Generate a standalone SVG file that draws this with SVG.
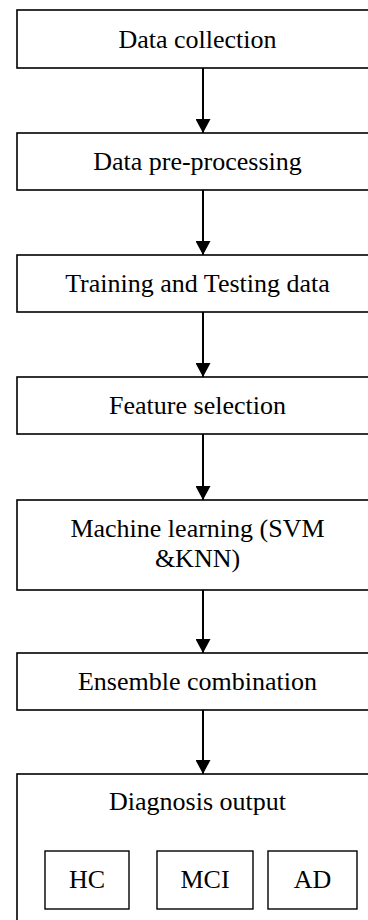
<svg xmlns="http://www.w3.org/2000/svg" width="368" height="920" viewBox="0 0 368 920">
<style>
.box{fill:#fff;stroke:#000;stroke-width:1.6}
.ibox{fill:#fff;stroke:#000;stroke-width:1.4}
.t{font-size:26px;fill:#000;text-anchor:middle}
.c{stroke:#000;stroke-width:2;fill:none}
</style>
<defs>
<marker id="ah" markerWidth="14" markerHeight="15" refX="14" refY="7.5" orient="auto" markerUnits="userSpaceOnUse" viewBox="0 0 14 15">
<path d="M0,0 L14,7.5 L0,15 Z" fill="#000"/>
</marker>
</defs>
<g id="connectors">
<line class="c" x1="203" y1="68" x2="203" y2="133" marker-end="url(#ah)"/>
<line class="c" x1="203" y1="190" x2="203" y2="255" marker-end="url(#ah)"/>
<line class="c" x1="203" y1="312" x2="203" y2="377" marker-end="url(#ah)"/>
<line class="c" x1="203" y1="434" x2="203" y2="500" marker-end="url(#ah)"/>
<line class="c" x1="203" y1="590" x2="203" y2="653" marker-end="url(#ah)"/>
<line class="c" x1="203" y1="710" x2="203" y2="774" marker-end="url(#ah)"/>
</g>
<g font-family="'Liberation Serif', 'DejaVu Serif', serif">
<g id="n1"><rect class="box" x="17" y="10" width="372" height="58"/><text class="t" x="197.5" y="48">Data collection</text></g>
<g id="n2"><rect class="box" x="17" y="133" width="372" height="57"/><text class="t" x="197.5" y="170">Data pre-processing</text></g>
<g id="n3"><rect class="box" x="17" y="255" width="372" height="57"/><text class="t" x="197.5" y="292">Training and Testing data</text></g>
<g id="n4"><rect class="box" x="17" y="377" width="372" height="57"/><text class="t" x="197.5" y="414">Feature selection</text></g>
<g id="n5"><rect class="box" x="17" y="500" width="372" height="90"/><text class="t" x="197.5" y="537">Machine learning (SVM</text><text class="t" x="197.5" y="567">&amp;KNN)</text></g>
<g id="n6"><rect class="box" x="17" y="653" width="372" height="57"/><text class="t" x="197.5" y="690">Ensemble combination</text></g>
<g id="n7"><rect class="box" x="17" y="774" width="372" height="160"/><text class="t" x="197.5" y="810">Diagnosis output</text></g>
<g id="hc"><rect class="ibox" x="45" y="851" width="84" height="58"/><text class="t" x="87" y="888">HC</text></g>
<g id="mci"><rect class="ibox" x="157" y="851" width="96" height="58"/><text class="t" x="205" y="888">MCI</text></g>
<g id="ad"><rect class="ibox" x="268" y="851" width="89" height="58"/><text class="t" x="312.5" y="888">AD</text></g>
</g>
</svg>
